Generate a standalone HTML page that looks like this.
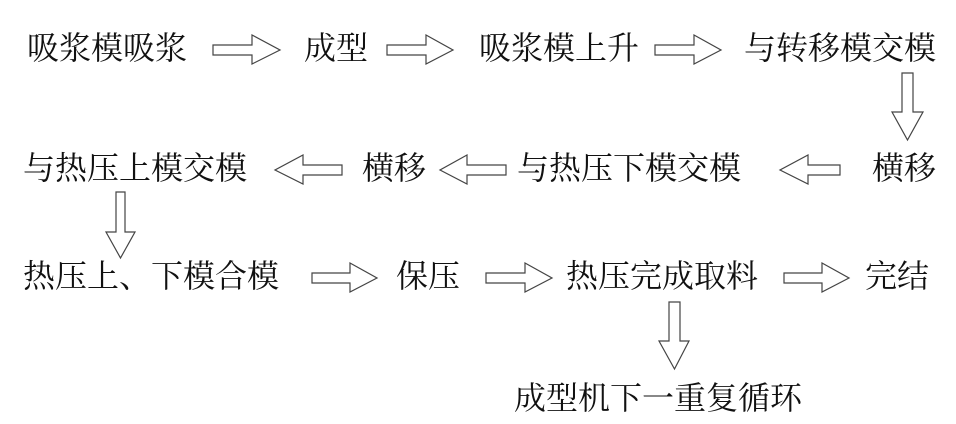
<!DOCTYPE html>
<html><head><meta charset="utf-8"><style>
body{margin:0;width:956px;height:424px;background:#fff;position:relative;overflow:hidden}
.t{position:absolute;font-family:"Liberation Serif","Noto Serif CJK SC",serif;font-size:32px;line-height:32px;color:#111;white-space:nowrap}
svg{position:absolute;left:0;top:0}
</style></head><body>
<div class="t" style="left:27px;top:32px">吸浆模吸浆</div>
<div class="t" style="left:304px;top:32px">成型</div>
<div class="t" style="left:479px;top:32px">吸浆模上升</div>
<div class="t" style="left:744px;top:32px">与转移模交模</div>
<div class="t" style="left:23px;top:152px">与热压上模交模</div>
<div class="t" style="left:362px;top:152px">横移</div>
<div class="t" style="left:517px;top:152px">与热压下模交模</div>
<div class="t" style="left:872px;top:152px">横移</div>
<div class="t" style="left:23px;top:260px">热压上、下模合模</div>
<div class="t" style="left:396px;top:260px">保压</div>
<div class="t" style="left:566px;top:260px">热压完成取料</div>
<div class="t" style="left:865px;top:260px">完结</div>
<div class="t" style="left:514px;top:382px">成型机下一重复循环</div>
<svg width="956" height="424" fill="none" stroke="#444" stroke-width="1.2">
<!-- right arrows: x0 shaft start, x1 head base, x2 tip, cy -->
<polygon points="213,45 252,45 252,35 280,50 252,64 252,55 213,55"/>
<polygon points="387,45 426,45 426,35 453,50 426,64 426,55 387,55"/>
<polygon points="655,45 694,45 694,35 721,50 694,64 694,55 655,55"/>
<!-- left arrows row2 -->
<polygon points="342,165 303,165 303,155 275,170 303,184 303,175 342,175"/>
<polygon points="506,165 467,165 467,155 440,170 467,184 467,175 506,175"/>
<polygon points="840,165 808,165 808,155 780,170 808,184 808,175 840,175"/>
<!-- right arrows row3 -->
<polygon points="312,273 350,273 350,263 377,278 350,292 350,283 312,283"/>
<polygon points="486,273 525,273 525,263 552,278 525,292 525,283 486,283"/>
<polygon points="784,273 822,273 822,263 849,278 822,292 822,283 784,283"/>
<!-- down arrows -->
<polygon points="902,73 913,73 913,112 923,112 907.5,140 892,112 902,112"/>
<polygon points="116,192 125,192 125,232 135,232 120.5,258 106,232 116,232"/>
<polygon points="669,302 680,302 680,341 689,341 674.5,369 659,341 669,341"/>
</svg>
</body></html>
